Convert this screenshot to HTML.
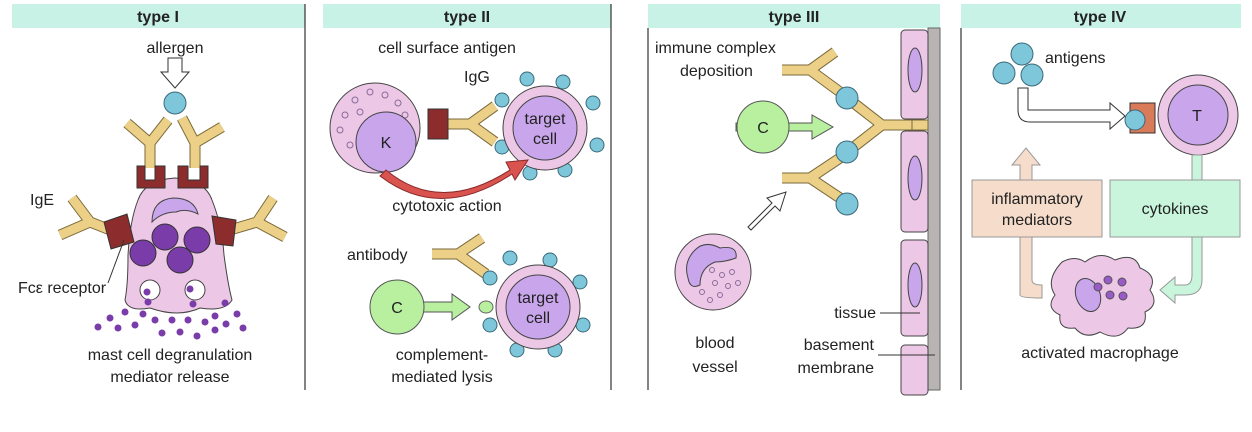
<!DOCTYPE html>
<html><head><meta charset="utf-8"><style>
html,body{margin:0;padding:0;background:#fff;width:1252px;height:432px;overflow:hidden}
svg{display:block}
text{font-family:"Liberation Sans",sans-serif;font-size:16px;fill:#222}
.h{font-weight:bold;font-size:16px;text-anchor:middle}
.ao{fill:none;stroke:#7a6a3a;stroke-width:11}
.ai{fill:none;stroke:#ecd088;stroke-width:9}
.ag{fill:#7ec6da;stroke:#3a6a7a;stroke-width:1}
.pk{fill:#ecc8e6;stroke:#444;stroke-width:1}
.pu{fill:#c9a6ec;stroke:#444;stroke-width:1}
</style></head><body>
<svg width="1252" height="432" viewBox="0 0 1252 432" xmlns="http://www.w3.org/2000/svg">
<defs>
<path id="abs" d="
M150,168 L150,143 M150,143 L127,123 M150,143 L168,120
M195,168 L195,143 M195,143 L182,118 M195,143 L222,127
M118,233 L90,222 M90,222 L72,198 M90,222 L60,235
M230,230 L257,222 M257,222 L273,198 M257,222 L285,237
M445,124 L470,124 M470,124 L495,106 M470,124 L495,142
M432,254 L458,254 M458,254 L482,238 M458,254 L486,274
M912,125 L882,125 M882,125 L855,104 M882,125 L855,146
M782,70 L810,70 M810,70 L835,52 M810,70 L840,92
M782,178 L810,178 M810,178 L840,158 M810,178 L840,198"/>
</defs>
<!-- headers -->
<rect x="12" y="4" width="293" height="24" fill="#c8f2e6"/>
<rect x="323" y="4" width="288" height="24" fill="#c8f2e6"/>
<rect x="648" y="4" width="292" height="24" fill="#c8f2e6"/>
<rect x="961" y="4" width="280" height="24" fill="#c8f2e6"/>
<text class="h" x="158" y="22">type I</text>
<text class="h" x="467" y="22">type II</text>
<text class="h" x="794" y="22">type III</text>
<text class="h" x="1100" y="22">type IV</text>
<g stroke="#333" stroke-width="1.2">
<line x1="305" y1="4" x2="305" y2="390"/>
<line x1="611" y1="4" x2="611" y2="390"/>
<line x1="648" y1="28" x2="648" y2="390"/>
<line x1="961" y1="28" x2="961" y2="390"/>
</g>

<!-- antibodies (under everything else) -->
<use href="#abs" class="ao"/>
<use href="#abs" class="ai"/>

<!-- TYPE I -->
<text x="175" y="53" text-anchor="middle">allergen</text>
<path d="M168,58 H182 V72 H189 L175,88 L161,72 H168 Z" fill="#fff" stroke="#333"/>
<circle cx="175" cy="103" r="11" class="ag"/>
<path d="M138,200 Q145,180 175,178 Q205,180 212,200 Q222,225 224,255 Q228,285 232,300 Q225,312 200,308 Q178,318 150,308 Q128,312 125,300 Q128,285 128,255 Q130,220 138,200Z" class="pk"/>
<path d="M137,166 H145 V180 H155 V166 H165 V188 H137Z" fill="#8c2c2c" stroke="#333"/>
<path d="M178,166 H188 V180 H200 V166 H208 V188 H178Z" fill="#8c2c2c" stroke="#333"/>
<path d="M104,222 L127,214 L134,242 L111,249Z" fill="#8c2c2c" stroke="#333"/>
<path d="M212,216 L236,220 L233,246 L216,244Z" fill="#8c2c2c" stroke="#333"/>
<path d="M152,222 Q152,200 173,198 Q194,198 198,214 Q186,208 176,212 Q162,212 152,222Z" class="pu"/>
<g fill="#7a3ca8" stroke="#333">
<circle cx="143" cy="253" r="13"/><circle cx="165" cy="237" r="13"/><circle cx="197" cy="240" r="13"/><circle cx="180" cy="260" r="13"/>
</g>
<circle cx="150" cy="290" r="10" fill="#fff" stroke="#444"/>
<circle cx="195" cy="290" r="10" fill="#fff" stroke="#444"/>
<g fill="#7a3ca8">
<circle cx="147" cy="292" r="3.5"/><circle cx="190" cy="289" r="3.5"/><circle cx="148" cy="302" r="3.5"/><circle cx="193" cy="304" r="3.5"/>
<circle cx="98" cy="327" r="3.5"/><circle cx="110" cy="318" r="3.5"/><circle cx="125" cy="312" r="3.5"/><circle cx="118" cy="328" r="3.5"/><circle cx="135" cy="325" r="3.5"/><circle cx="143" cy="314" r="3.5"/><circle cx="155" cy="320" r="3.5"/><circle cx="162" cy="333" r="3.5"/><circle cx="172" cy="320" r="3.5"/><circle cx="180" cy="332" r="3.5"/><circle cx="188" cy="320" r="3.5"/><circle cx="197" cy="336" r="3.5"/><circle cx="205" cy="322" r="3.5"/><circle cx="215" cy="316" r="3.5"/><circle cx="215" cy="330" r="3.5"/><circle cx="225" cy="303" r="3.5"/><circle cx="226" cy="324" r="3.5"/><circle cx="237" cy="314" r="3.5"/><circle cx="243" cy="328" r="3.5"/>
</g>
<text x="30" y="205">IgE</text>
<text x="18" y="293">Fcε receptor</text>
<line x1="108" y1="283" x2="124" y2="240" stroke="#333"/>
<text x="170" y="360" text-anchor="middle">mast cell degranulation</text>
<text x="170" y="382" text-anchor="middle">mediator release</text>

<!-- TYPE II -->
<text x="447" y="53" text-anchor="middle">cell surface antigen</text>
<text x="464" y="82">IgG</text>
<circle cx="375" cy="128" r="45" class="pk"/>
<g fill="none" stroke="#8a6a9a"><circle cx="355" cy="100" r="3"/><circle cx="370" cy="92" r="3"/><circle cx="385" cy="95" r="3"/><circle cx="398" cy="103" r="3"/><circle cx="345" cy="115" r="3"/><circle cx="360" cy="112" r="3"/><circle cx="340" cy="130" r="3"/><circle cx="350" cy="145" r="3"/><circle cx="405" cy="115" r="3"/></g>
<circle cx="386" cy="142" r="30" class="pu"/>
<text x="386" y="148" text-anchor="middle">K</text>
<rect x="428" y="109" width="20" height="30" fill="#8c2c2c" stroke="#333"/>
<g class="ag"><circle cx="527" cy="79" r="7"/><circle cx="563" cy="82" r="7"/><circle cx="593" cy="103" r="7"/><circle cx="597" cy="145" r="7"/><circle cx="565" cy="170" r="7"/><circle cx="530" cy="173" r="7"/><circle cx="502" cy="100" r="7"/><circle cx="502" cy="147" r="7"/></g>
<circle cx="545" cy="128" r="42" class="pk"/>
<circle cx="545" cy="128" r="32" class="pu"/>
<text x="545" y="124" text-anchor="middle">target</text>
<text x="545" y="144" text-anchor="middle">cell</text>
<path d="M386,170 Q440,215 510,170 L506,162 L528,160 L515,180 L512,174 Q440,222 380,176Z" fill="#d9534f" stroke="#8a2a2a"/>
<text x="447" y="211" text-anchor="middle">cytotoxic action</text>
<text x="347" y="260">antibody</text>
<g class="ag"><circle cx="510" cy="258" r="7"/><circle cx="550" cy="260" r="7"/><circle cx="580" cy="282" r="7"/><circle cx="583" cy="325" r="7"/><circle cx="555" cy="350" r="7"/><circle cx="517" cy="350" r="7"/><circle cx="490" cy="325" r="7"/><circle cx="490" cy="278" r="7"/></g>
<ellipse cx="486" cy="307" rx="7" ry="6" fill="#b8f0a0" stroke="#666"/>
<circle cx="538" cy="307" r="42" class="pk"/>
<circle cx="538" cy="307" r="32" class="pu"/>
<text x="538" y="303" text-anchor="middle">target</text>
<text x="538" y="323" text-anchor="middle">cell</text>
<path d="M420,302 H452 V294 L470,307 L452,320 V312 H420Z" fill="#b8f0a0" stroke="#555"/>
<circle cx="397" cy="307" r="27" fill="#b8f0a0" stroke="#555"/>
<text x="397" y="313" text-anchor="middle">C</text>
<text x="442" y="360" text-anchor="middle">complement-</text>
<text x="442" y="382" text-anchor="middle">mediated lysis</text>

<!-- TYPE III -->
<rect x="928" y="28" width="12" height="362" fill="#b8b4b4" stroke="#666"/>
<g class="pk">
<rect x="901" y="30" width="27" height="89" rx="4"/>
<rect x="901" y="131" width="27" height="101" rx="4"/>
<rect x="901" y="240" width="27" height="96" rx="4"/>
<rect x="901" y="345" width="27" height="50" rx="4"/>
</g>
<g class="pu"><ellipse cx="915" cy="70" rx="7" ry="22"/><ellipse cx="915" cy="178" rx="7" ry="22"/><ellipse cx="915" cy="285" rx="7" ry="22"/></g>
<path d="M912,120 H928 V130 H912Z" fill="#ecd088" stroke="#7a6a3a"/>
<g class="ag"><circle cx="847" cy="98" r="11"/><circle cx="847" cy="152" r="11"/><circle cx="847" cy="204" r="11"/></g>
<path d="M736,123 H812 V115 L833,127 L812,139 V131 H736Z" fill="#b8f0a0" stroke="#555"/>
<circle cx="763" cy="127" r="26" fill="#b8f0a0" stroke="#555"/>
<text x="763" y="133" text-anchor="middle">C</text>
<path d="M748,227 L772,203 L767,198 L786,192 L780,211 L775,206 L751,230Z" fill="#fff" stroke="#333"/>
<circle cx="713" cy="272" r="38" class="pk"/>
<path d="M695,250 Q705,240 720,248 Q738,245 736,258 Q725,262 715,262 Q700,268 700,285 Q690,290 688,278 Q683,262 695,250Z" class="pu"/>
<g fill="none" stroke="#8a6a9a"><circle cx="712" cy="270" r="2.5"/><circle cx="722" cy="275" r="2.5"/><circle cx="732" cy="272" r="2.5"/><circle cx="715" cy="283" r="2.5"/><circle cx="728" cy="286" r="2.5"/><circle cx="702" cy="292" r="2.5"/><circle cx="720" cy="295" r="2.5"/><circle cx="738" cy="283" r="2.5"/><circle cx="710" cy="300" r="2.5"/></g>
<text x="655" y="53">immune complex</text>
<text x="680" y="76">deposition</text>
<text x="715" y="348" text-anchor="middle">blood</text>
<text x="715" y="372" text-anchor="middle">vessel</text>
<text x="876" y="318" text-anchor="end">tissue</text>
<line x1="880" y1="313" x2="920" y2="313" stroke="#333"/>
<text x="874" y="350" text-anchor="end">basement</text>
<text x="874" y="373" text-anchor="end">membrane</text>
<line x1="878" y1="355" x2="935" y2="355" stroke="#333"/>

<!-- TYPE IV -->
<g class="ag"><circle cx="1022" cy="54" r="11"/><circle cx="1004" cy="73" r="11"/><circle cx="1032" cy="75" r="11"/></g>
<text x="1045" y="63">antigens</text>
<path d="M1018,88 H1028 V110 H1110 V103 L1125,116 L1110,129 V122 H1030 Q1018,122 1018,110Z" fill="#fff" stroke="#333"/>
<rect x="1130" y="103" width="25" height="30" fill="#d97a58" stroke="#333"/>
<circle cx="1198" cy="115" r="40" class="pk"/>
<circle cx="1198" cy="115" r="30" class="pu"/>
<text x="1197" y="121" text-anchor="middle">T</text>
<circle cx="1135" cy="120" r="10" class="ag"/>
<path d="M1020,295 Q1020,285 1020,237 H1032 V280 Q1032,285 1042,285 V298 Q1020,298 1020,295Z" fill="#f6dccb" stroke="#999"/>
<path d="M1020,180 V165 H1012 L1026,148 L1040,165 H1032 V180Z" fill="#f6dccb" stroke="#999"/>
<rect x="972" y="180" width="130" height="57" fill="#f6dccb" stroke="#999"/>
<text x="1037" y="204" text-anchor="middle">inflammatory</text>
<text x="1037" y="225" text-anchor="middle">mediators</text>
<path d="M1192,155 H1202 V180 H1192Z" fill="#c8f5dc" stroke="#999"/>
<rect x="1110" y="180" width="130" height="57" fill="#c8f5dc" stroke="#999"/>
<text x="1175" y="214" text-anchor="middle">cytokines</text>
<path d="M1192,237 H1202 V280 Q1202,295 1185,295 H1175 V303 L1160,290 L1175,277 V285 H1185 Q1192,285 1192,275Z" fill="#c8f5dc" stroke="#999"/>
<path d="M1062,262 Q1075,255 1085,262 Q1100,250 1115,260 Q1135,252 1140,268 Q1158,275 1150,290 Q1160,305 1145,312 Q1148,330 1128,328 Q1118,342 1100,332 Q1085,340 1075,328 Q1058,330 1060,315 Q1045,308 1055,295 Q1045,280 1062,262Z" class="pk"/>
<ellipse cx="1088" cy="295" rx="12" ry="17" class="pu" transform="rotate(-20 1088 295)"/>
<g fill="#9a5ac8" stroke="#555"><circle cx="1108" cy="280" r="4"/><circle cx="1122" cy="282" r="4"/><circle cx="1110" cy="295" r="4"/><circle cx="1123" cy="296" r="4"/><circle cx="1098" cy="287" r="4"/></g>
<text x="1100" y="358" text-anchor="middle">activated macrophage</text>
</svg>
</body></html>
